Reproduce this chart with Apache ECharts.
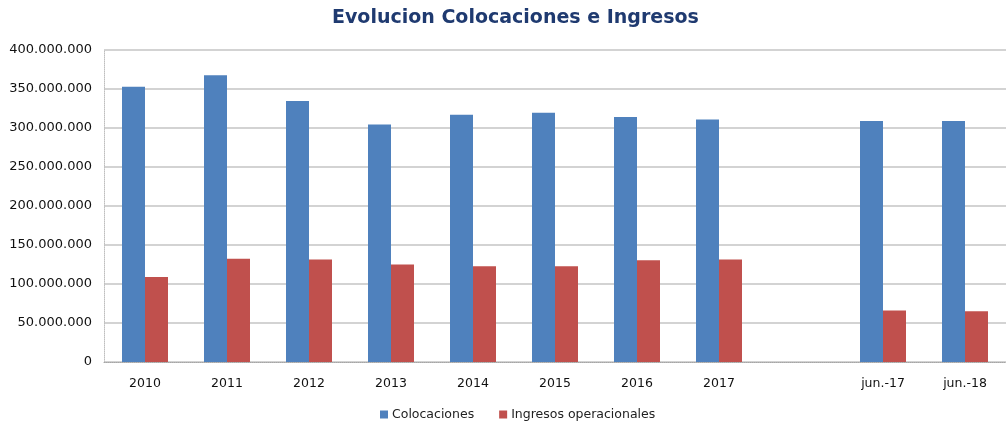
<!DOCTYPE html>
<html>
<head>
<meta charset="utf-8">
<script src="https://cdn.jsdelivr.net/npm/echarts@6/dist/echarts.min.js"></script>
<style>html,body{margin:0;padding:0;background:#fff}#c{width:1006px;height:424px}</style>
</head>
<body>
<div id="c"></div>
<script>
const categories = ['2010','2011','2012','2013','2014','2015','2016','2017','','jun.-17','jun.-18'];
const colocaciones = [353000000, 367500000, 334500000, 304500000, 317000000, 319700000, 314000000, 310800000, null, 309000000, 309000000];
const ingresos = [109000000, 132500000, 131300000, 124900000, 122700000, 122700000, 130400000, 131300000, null, 65900000, 65000000];
const yTicks = { min: 0, max: 400000000, interval: 50000000 };

function fmt(v) {
  if (v === 0) return '0';
  return String(v).replace(/\B(?=(\d{3})+(?!\d))/g, '.');
}

const chart = echarts.init(document.getElementById('c'), null, { renderer: 'canvas' });
chart.setOption({
  animation: false,
  backgroundColor: '#fff',
  title: {
    text: 'Evolucion Colocaciones e Ingresos',
    left: 332,
    top: 9,
    padding: 0,
    textStyle: { fontFamily: 'DejaVu Sans', fontWeight: 'bold', fontSize: 19, color: '#1F3A70' }
  },
  legend: {
    data: ['Colocaciones', 'Ingresos operacionales'],
    left: 380,
    top: 408,
    icon: 'rect',
    itemWidth: 8,
    itemHeight: 8,
    itemGap: 25,
    padding: 0,
    textStyle: { fontFamily: 'DejaVu Sans', fontSize: 12.5, color: '#222', padding: [0, 0, 0, -1] }
  },
  grid: { left: 104, right: -10, top: 50, bottom: 62, containLabel: false },
  xAxis: {
    type: 'category',
    data: categories,
    axisLine: { show: true, lineStyle: { color: '#A6A6A6', type: 'dotted', width: 1 } },
    axisTick: { show: false },
    axisLabel: { fontFamily: 'DejaVu Sans', fontSize: 12.5, color: '#111', margin: 15, interval: 0 }
  },
  yAxis: {
    type: 'value',
    min: yTicks.min,
    max: yTicks.max,
    interval: yTicks.interval,
    axisLine: { show: true, lineStyle: { color: '#BFBFBF', type: 'dotted', width: 1 } },
    axisTick: { show: false },
    splitLine: { show: true, lineStyle: { color: '#C4C4C4', width: 1.5 } },
    axisLabel: { fontFamily: 'DejaVu Sans', fontSize: 13, color: '#111', margin: 12, formatter: fmt }
  },
  series: [
    {
      name: 'Colocaciones',
      type: 'bar',
      data: colocaciones,
      barWidth: 23,
      barGap: '0%',
      itemStyle: { color: '#4F81BD' }
    },
    {
      name: 'Ingresos operacionales',
      type: 'bar',
      data: ingresos,
      barWidth: 23,
      barGap: '0%',
      itemStyle: { color: '#C0504D' }
    }
  ]
});
</script>
</body>
</html>
